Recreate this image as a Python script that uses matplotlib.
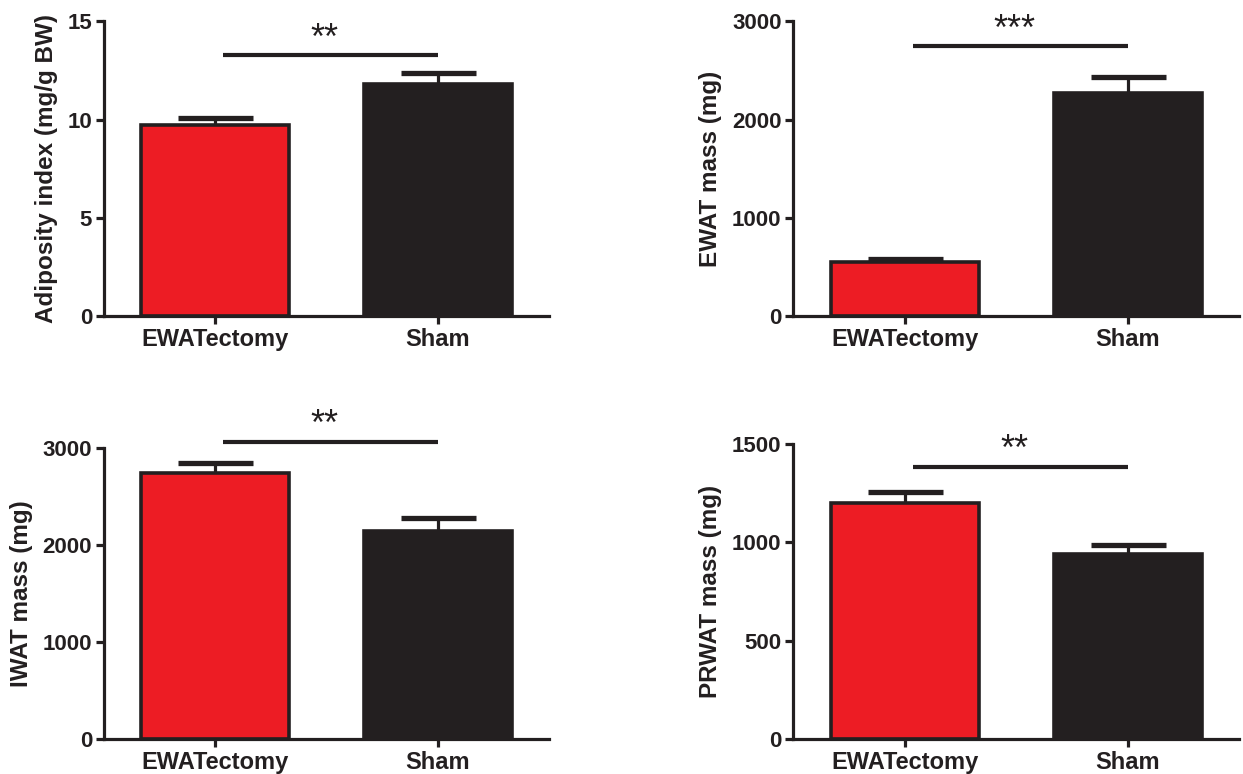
import matplotlib
matplotlib.use("Agg")
import matplotlib.pyplot as plt

plt.rcParams['font.family'] = ['Liberation Sans', 'DejaVu Sans']
plt.rcParams['font.weight'] = 'bold'

DARK = '#231F20'
RED = '#ED1C24'

categories = ['EWATectomy', 'Sham']

adiposity_mean = [9.70, 11.81]
adiposity_sem = [0.36, 0.54]
ewat_mean = [546, 2267]
ewat_sem = [38, 170]
iwat_mean = [2743, 2143]
iwat_sem = [99, 130]
prwat_mean = [1202, 941]
prwat_sem = [54, 47]

ylabels = ['Adiposity index (mg/g BW)', 'EWAT mass (mg)', 'IWAT mass (mg)', 'PRWAT mass (mg)']
ylims = [15, 3000, 3000, 1500]
yticks = [[0, 5, 10, 15], [0, 1000, 2000, 3000], [0, 1000, 2000, 3000], [0, 500, 1000, 1500]]
sig_text = ['**', '***', '**', '**']
sig_line_y = [13.3, 2752, 3062, 1381]
sig_star_y = [14.37, 2959, 3285, 1493]

means = [adiposity_mean, ewat_mean, iwat_mean, prwat_mean]
sems = [adiposity_sem, ewat_sem, iwat_sem, prwat_sem]

W, H = 1243, 774
fig = plt.figure(figsize=(W / 100, H / 100), dpi=100)

# axes boxes in pixels: left, right, top, bottom
boxes = [
    (104, 549.3, 21.3, 316.0),
    (793.3, 1239.3, 21.3, 316.0),
    (104, 549.3, 447.7, 739.3),
    (793.3, 1239.3, 444.0, 739.3),
]

STAR_FS = 26

for i in range(4):
    l, r, t, b = boxes[i]
    ax = fig.add_axes([l / W, 1 - b / H, (r - l) / W, (b - t) / H])
    x = list(range(len(categories)))
    ax.errorbar(x, means[i], yerr=sems[i], fmt='none', ecolor=DARK,
                elinewidth=2.3, capsize=27, capthick=3.8, zorder=1)
    ax.bar(x, means[i], width=0.665, color=[RED, DARK], edgecolor=DARK,
           linewidth=2.6, zorder=2)
    ax.set_xlim(-0.5, 1.5)
    ax.set_ylim(0, ylims[i])
    ax.set_yticks(yticks[i])
    ax.set_xticks(x)
    ax.set_xticklabels(categories, fontsize=17, fontweight='bold', color=DARK)
    for lab in ax.get_yticklabels():
        lab.set_fontsize(16)
        lab.set_fontweight('bold')
        lab.set_color(DARK)
    ax.set_ylabel(ylabels[i], fontsize=17.5, fontweight='bold', color=DARK, labelpad=7)
    for s in ['top', 'right']:
        ax.spines[s].set_visible(False)
    for s in ['left', 'bottom']:
        ax.spines[s].set_linewidth(2.3)
        ax.spines[s].set_color(DARK)
    ax.tick_params(axis='both', direction='out', length=6, width=2.3, color=DARK, pad=2.5)
    # significance bracket
    ax.plot([0.035, 1.0], [sig_line_y[i], sig_line_y[i]], color=DARK, lw=3,
            clip_on=False, solid_capstyle='butt')
    ax.annotate(sig_text[i], xy=(0.49, sig_star_y[i]), xytext=(0, -0.41 * STAR_FS),
                textcoords='offset points', ha='center', va='baseline',
                fontsize=STAR_FS, fontweight='normal', color=DARK, annotation_clip=False)

fig.savefig('out.png', dpi=100)
